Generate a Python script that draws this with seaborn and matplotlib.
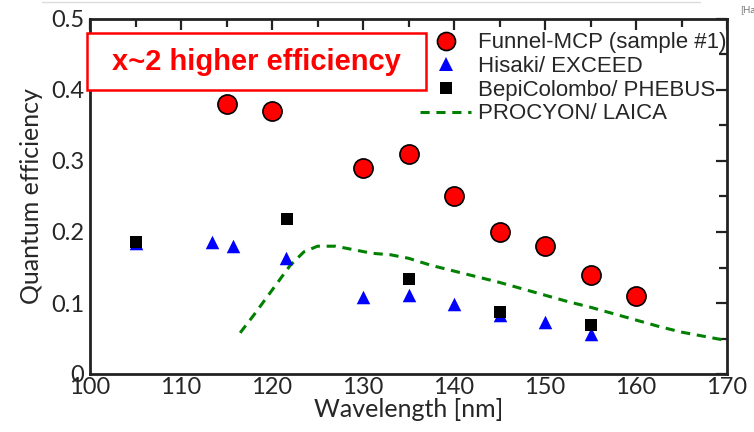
import matplotlib
matplotlib.use("Agg")
import matplotlib.pyplot as plt
import seaborn as sns
import pandas as pd
from matplotlib.lines import Line2D
from matplotlib.patches import Rectangle
from matplotlib.ticker import MultipleLocator

# ---- data ----
funnel_wl = [115, 120, 130, 135, 140, 145, 150, 155, 160]
funnel_qe = [0.38, 0.37, 0.29, 0.31, 0.25, 0.20, 0.18, 0.14, 0.11]

hisaki_wl = [105, 113.4, 115.7, 121.5, 130, 135, 140, 145, 150, 155]
hisaki_qe = [0.185, 0.186, 0.180, 0.163, 0.109, 0.111, 0.098, 0.083, 0.073, 0.057]

bepi_wl = [105, 121.6, 135, 145, 155]
bepi_qe = [0.186, 0.218, 0.134, 0.088, 0.069]

procyon_wl = [116.5, 118, 120, 122, 123.5, 125, 127, 129, 131, 133, 135, 137.5,
              140, 142.5, 145, 147.5, 150, 152.5, 155, 157.5, 160, 162.5, 165, 167.5, 170]
procyon_qe = [0.058, 0.083, 0.118, 0.153, 0.172, 0.180, 0.180, 0.175, 0.170, 0.168,
              0.163, 0.153, 0.145, 0.137, 0.129, 0.120, 0.111, 0.102, 0.094, 0.085,
              0.076, 0.067, 0.059, 0.053, 0.047]

labels = ["Funnel-MCP (sample #1)", "Hisaki/ EXCEED", "BepiColombo/ PHEBUS", "PROCYON/ LAICA"]
xticks = [100, 110, 120, 130, 140, 150, 160, 170]
yticks = [0, 0.1, 0.2, 0.3, 0.4, 0.5]
yticklabels = ["0", "0.1", "0.2", "0.3", "0.4", "0.5"]

sns.set_theme(style="white")
plt.rcParams["font.family"] = ["Lato", "DejaVu Sans"]

fig = plt.figure(figsize=(7.54, 4.32), dpi=100)
ax = fig.add_axes([90/754, 1-374/432, (727-90)/754, (374-19)/432])

df_p = pd.DataFrame({"wl": procyon_wl, "qe": procyon_qe})
sns.lineplot(data=df_p, x="wl", y="qe", ax=ax, color="#008000", lw=2.2,
             linestyle=(0, (3, 2.2)), zorder=2)
df_b = pd.DataFrame({"wl": bepi_wl, "qe": bepi_qe})
df_h = pd.DataFrame({"wl": hisaki_wl, "qe": hisaki_qe})
sns.scatterplot(data=df_h, x="wl", y="qe", ax=ax, color="#0000ff", marker="^",
                s=95, linewidth=0, zorder=3)
sns.scatterplot(data=df_b, x="wl", y="qe", ax=ax, color="black", marker="s",
                s=70, linewidth=0, zorder=4)
df_f = pd.DataFrame({"wl": funnel_wl, "qe": funnel_qe})
sns.scatterplot(data=df_f, x="wl", y="qe", ax=ax, color="#ff0000", marker="o",
                s=190, edgecolor="black", linewidth=1.2, zorder=5)

ax.set_xlim(100, 170)
ax.set_ylim(0, 0.5)
ax.set_xticks(xticks)
ax.set_yticks(yticks)
ax.set_yticklabels(yticklabels)
ax.xaxis.set_minor_locator(MultipleLocator(5))
ax.yaxis.set_minor_locator(MultipleLocator(0.05))
ax.tick_params(which="both", direction="in", top=True, right=True,
               labelsize=17, color="#222222", width=1.6, pad=4)
ax.tick_params(which="major", length=8)
ax.tick_params(which="minor", length=6)
ax.tick_params(axis="x", pad=2)
for s in ax.spines.values():
    s.set_color("#222222")
    s.set_linewidth(2)
ax.set_xlabel("Wavelength [nm]", fontsize=18, labelpad=0)
ax.set_ylabel("Quantum efficiency", fontsize=18, labelpad=6)

handles = [
    Line2D([], [], marker="o", color="none", markerfacecolor="#ff0000",
           markeredgecolor="black", markersize=13, markeredgewidth=1.2),
    Line2D([], [], marker="^", color="none", markerfacecolor="#0000ff",
           markeredgewidth=0, markersize=10),
    Line2D([], [], marker="s", color="none", markerfacecolor="black",
           markeredgewidth=0, markersize=8),
    Line2D([], [], color="#008000", lw=2.2, linestyle=(0, (3, 2.2))),
]
leg = ax.legend(handles, labels, loc="upper right", bbox_to_anchor=(1.02, 1.0),
                frameon=False, handlelength=2.3, handletextpad=0.3,
                labelspacing=0.12, borderaxespad=0.2,
                prop={"family": ["Liberation Sans", "DejaVu Sans"], "size": 16})

# annotation box
ax.add_patch(Rectangle((-0.005, 0.80), 0.532, 0.161, transform=ax.transAxes,
                       facecolor="white", edgecolor="#ff0000", lw=1.8,
                       clip_on=False, zorder=6))
ax.text(0.261, 0.880, "x~2 higher efficiency", transform=ax.transAxes,
        ha="center", va="center", color="#ff0000", fontsize=21, fontweight="bold",
        family=["Liberation Sans", "DejaVu Sans"], zorder=7)

fig.add_artist(Line2D([42/754, 700/754], [1-2/432, 1-2/432], color="#dddddd", lw=1))
fig.text(740/754, 1-10/432, "[Ha", fontsize=7, color="#777777", va="center", ha="left")

fig.savefig("out.png", dpi=100)
